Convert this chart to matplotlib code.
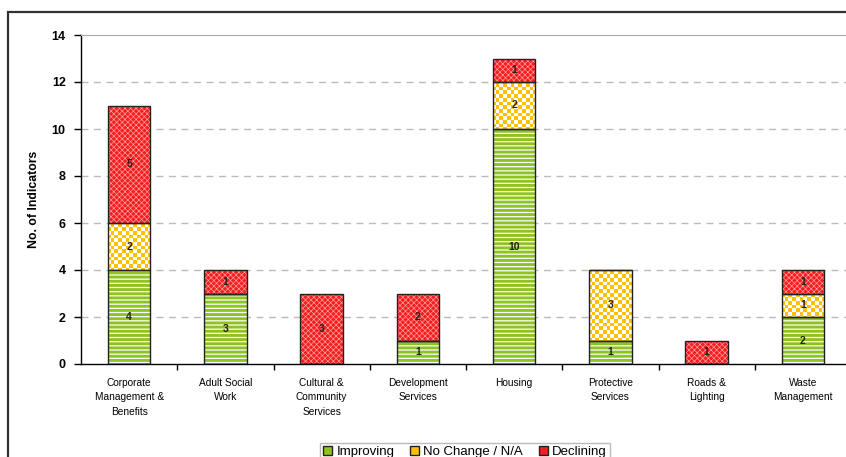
"""
Stacked bar chart of performance indicators by service area.
"""
import matplotlib.pyplot as plt
import numpy as np
from matplotlib.patches import Rectangle, Patch

plt.rcParams["font.family"] = ["Liberation Sans", "DejaVu Sans"]

SERVICES = ["Corporate\nManagement &\nBenefits", "Adult Social\nWork",
            "Cultural &\nCommunity\nServices", "Development\nServices",
            "Housing", "Protective\nServices", "Roads &\nLighting",
            "Waste\nManagement"]
IMPROVING = [4, 3, 0, 1, 10, 1, 0, 2]
NO_CHANGE = [2, 0, 0, 0, 2, 3, 0, 1]
DECLINING = [5, 1, 3, 2, 1, 0, 1, 1]

GREEN = "#8fc31f"
YELLOW = "#ffc000"
RED = "#f51e1e"

fig = plt.figure(figsize=(8.46, 4.57), dpi=100)
fig.patches.append(Rectangle((8 / 846, -0.1), 1.2, (457 - 12) / 457 + 0.1,
                             transform=fig.transFigure, fill=False,
                             edgecolor="#333333", linewidth=1.6))
ax = fig.add_axes([81 / 846, 93 / 457, 770 / 846, 329 / 457])

x = np.arange(len(SERVICES))
width = 0.44
imp = np.array(IMPROVING)
noc = np.array(NO_CHANGE)
dec = np.array(DECLINING)

ax.set_xlim(-0.5, len(SERVICES) - 0.5)
ax.set_ylim(0, 14)

# green: horizontal stripes
with plt.rc_context({"hatch.linewidth": 2.1}):
    ax.bar(x, imp, width, color="white", edgecolor=GREEN, hatch="----",
           linewidth=0, zorder=2)
ax.bar(x, imp, width, fill=False, edgecolor="#222222", linewidth=1.0,
       zorder=3)

# yellow: checkerboard clipped into each bar
yellow_bars = ax.bar(x, noc, width, bottom=imp, color=YELLOW, linewidth=0,
                     zorder=2)
rows, cols = 89, 208
checker = (np.indices((rows, cols)).sum(axis=0) % 2).astype(float)
cmap = plt.matplotlib.colors.ListedColormap(["white", YELLOW])
for bar in yellow_bars:
    if bar.get_height() == 0:
        continue
    im = ax.imshow(checker, cmap=cmap, extent=(-0.5, 7.5, 0, 14),
                   interpolation="nearest", aspect="auto", zorder=2.5)
    im.set_clip_path(bar)
ax.bar(x, noc, width, bottom=imp, fill=False, edgecolor="#222222",
       linewidth=1.0, zorder=3)

# red: fine cross pattern
with plt.rc_context({"hatch.linewidth": 0.45}):
    ax.bar(x, dec, width, bottom=imp + noc, color=RED, edgecolor="#ffa8a8",
           hatch="xxxxxx", linewidth=0, zorder=2)
ax.bar(x, dec, width, bottom=imp + noc, fill=False, edgecolor="#222222",
       linewidth=1.0, zorder=3)

for i in x:
    base = 0
    for val in (imp[i], noc[i], dec[i]):
        if val > 0:
            ax.text(i, base + val / 2, str(val), ha="center", va="center",
                    fontsize=7.5, fontweight="bold", color="#222222",
                    zorder=4)
        base += val

ax.set_yticks(range(0, 15, 2))
ax.tick_params(axis="y", labelsize=9, length=5, width=1, pad=6)
for t in ax.get_yticklabels():
    t.set_fontweight("bold")
ax.set_xticks(x)
ax.set_xticklabels(SERVICES, fontsize=7.3, linespacing=1.55)
ax.tick_params(axis="x", length=0, pad=10)
ax.set_xticks(np.arange(0.5, len(SERVICES) - 0.5), minor=True)
ax.tick_params(axis="x", which="minor", length=4, width=1)

for y in range(2, 14, 2):
    ax.axhline(y, color="#bbbbbb", linestyle=(0, (5, 4)), linewidth=1.0,
               zorder=1)

ax.spines["top"].set_color("#aaaaaa")
ax.spines["right"].set_visible(False)
ax.spines["left"].set_linewidth(1.0)
ax.spines["bottom"].set_linewidth(1.0)

ax.set_ylabel("No. of Indicators", fontsize=8.8, fontweight="bold",
              labelpad=8)

handles = [Patch(facecolor=GREEN, edgecolor="#222222", label="Improving"),
           Patch(facecolor=YELLOW, edgecolor="#222222",
                 label="No Change / N/A"),
           Patch(facecolor=RED, edgecolor="#222222", label="Declining")]
fig.legend(handles=handles, loc="center", bbox_to_anchor=(465 / 846, 5 / 457),
           ncol=3, fontsize=9.5, frameon=True, fancybox=False,
           edgecolor="#aaaaaa", handlelength=0.7, handleheight=0.7,
           handletextpad=0.3, columnspacing=1.2, borderpad=0.25)

fig.savefig("out.png", dpi=100)
